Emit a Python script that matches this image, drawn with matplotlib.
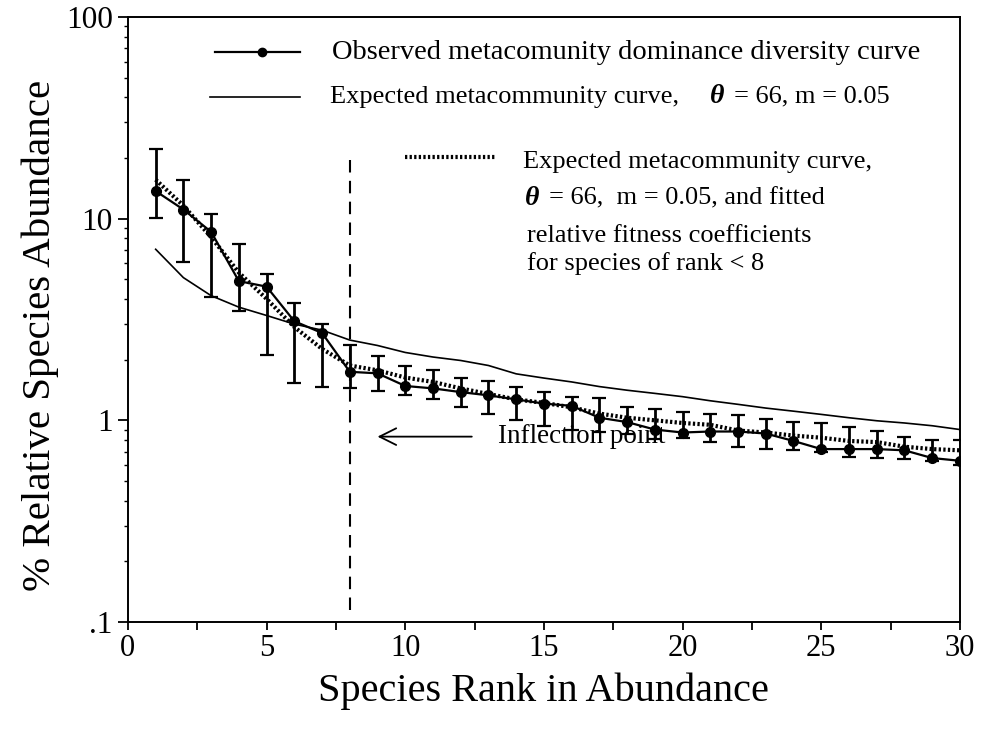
import matplotlib
matplotlib.use("Agg")
import matplotlib.pyplot as plt
import numpy as np
from matplotlib.ticker import FixedLocator, MultipleLocator, LogLocator, NullFormatter

plt.rcParams['font.family'] = ['Liberation Serif', 'DejaVu Serif']
plt.rcParams['mathtext.fontset'] = 'stix'

# species rank 1..30
rank = np.arange(1, 31)

# observed dominance-diversity curve (% relative abundance) with error bar limits
observed = [13.7, 11.1, 8.6, 4.9, 4.6, 3.1, 2.71, 1.74, 1.71, 1.48,
            1.44, 1.38, 1.33, 1.27, 1.21, 1.18, 1.03, 0.98, 0.90, 0.87,
            0.88, 0.88, 0.86, 0.79, 0.72, 0.72, 0.72, 0.71, 0.65, 0.63]
err_hi = [22.2, 15.6, 10.5, 7.5, 5.3, 3.8, 3.0, 2.37, 2.08, 1.85,
          1.78, 1.62, 1.56, 1.46, 1.38, 1.31, 1.29, 1.17, 1.14, 1.10,
          1.08, 1.06, 1.01, 0.98, 0.97, 0.93, 0.89, 0.83, 0.80, 0.80]
err_lo = [10.1, 6.1, 4.1, 3.5, 2.1, 1.53, 1.47, 1.45, 1.39, 1.33,
          1.27, 1.16, 1.07, 1.00, 0.94, 0.90, 0.88, 0.86, 0.81, 0.82,
          0.78, 0.74, 0.72, 0.71, 0.70, 0.66, 0.65, 0.64, 0.63, 0.60]

# expected neutral metacommunity curve (theta = 66, m = 0.05)
expected = [7.05, 5.1, 4.15, 3.64, 3.31, 3.0, 2.8, 2.5, 2.35, 2.17,
            2.06, 1.98, 1.87, 1.70, 1.62, 1.55, 1.47, 1.41, 1.36, 1.31,
            1.25, 1.20, 1.15, 1.11, 1.07, 1.03, 0.995, 0.97, 0.94, 0.90]

# expected curve with fitted fitness coefficients for rank < 8
fitted = [15.6, 11.6, 8.1, 5.4, 4.0, 2.9, 2.26, 1.87, 1.77, 1.63,
          1.55, 1.44, 1.35, 1.27, 1.22, 1.16, 1.08, 1.03, 1.0, 0.97,
          0.95, 0.89, 0.87, 0.84, 0.82, 0.79, 0.78, 0.74, 0.72, 0.71]

fig = plt.figure(figsize=(9.84, 7.38), dpi=100)
ax = fig.add_axes([0.130, 0.1572, 0.8455, 0.8198])

obs = np.array(observed)
yerr = [obs - np.array(err_lo), np.array(err_hi) - obs]
ax.errorbar(rank, obs, yerr=yerr, color='black', lw=1.6, marker='o', ms=7,
            capsize=5, elinewidth=2, capthick=1.6, zorder=3)
ax.plot(rank, expected, color='black', lw=1.2, zorder=2)
ax.plot(rank, fitted, color='black', lw=3, linestyle=(0, (0.55, 0.55)), zorder=2)

# inflection point
ax.plot([8, 8], [0.115, 19.5], color='black', lw=1.5, linestyle=(0, (6, 4)))
ax.annotate('', xy=(8.9, 0.83), xytext=(12.5, 0.83),
            arrowprops=dict(arrowstyle='->', lw=1.3, color='black', mutation_scale=30))
ax.text(13.35, 0.83, 'Inflection point', fontsize=19.5, va='center', ha='left')

ax.set_yscale('log')
ax.set_xlim(0, 30)
ax.set_ylim(0.1, 100)
ax.xaxis.set_major_locator(MultipleLocator(5))
ax.xaxis.set_minor_locator(MultipleLocator(2.5))
ax.yaxis.set_major_locator(FixedLocator([0.1, 1, 10, 100]))
ax.set_yticklabels(['.1', '1', '10', '100'])
ax.yaxis.set_minor_locator(LogLocator(base=10, subs=np.arange(2, 10)))
ax.yaxis.set_minor_formatter(NullFormatter())
ax.tick_params(axis='x', which='both', direction='out', length=6, width=1.3, labelsize=22, pad=3)
ax.tick_params(axis='y', which='major', direction='out', length=7, width=1.3, labelsize=22.5, pad=4)
ax.tick_params(axis='y', which='minor', direction='out', length=3, width=1)
for s in ax.spines.values():
    s.set_linewidth(1.4)

ax.set_xlabel('Species Rank in Abundance', fontsize=29)
ax.set_ylabel('% Relative Species Abundance', fontsize=29.5)
ax.xaxis.set_label_coords(0.5, -0.083)
ax.yaxis.set_label_coords(-0.083, 0.474)

# hand-drawn key, in axes fraction
T = ax.transAxes
fs = 19
ax.plot([0.1046, 0.2067], [0.942, 0.942], color='black', lw=1.6, transform=T)
ax.plot([0.161], [0.942], 'o', color='black', ms=6, transform=T)
ax.text(0.245, 0.942, 'Observed metacomunity dominance diversity curve', fontsize=20.5,
        va='center', ha='left', transform=T)

ax.plot([0.0986, 0.2067], [0.868, 0.868], color='black', lw=1.2, transform=T)
ax.text(0.243, 0.868, 'Expected metacommunity curve,', fontsize=fs,
        va='center', ha='left', transform=T)
ax.text(0.700, 0.868, '\u03b8', fontsize=fs + 1, fontstyle='italic', fontweight='bold',
        va='center', ha='left', transform=T)
ax.text(0.728, 0.868, '= 66, m = 0.05', fontsize=fs, va='center', ha='left', transform=T)

ax.plot([0.333, 0.441], [0.769, 0.769], color='black', lw=3,
        linestyle=(0, (0.55, 0.55)), transform=T)
ax.text(0.475, 0.760, 'Expected metacommunity curve,', fontsize=fs,
        va='center', ha='left', transform=T)
ax.text(0.477, 0.700, '\u03b8', fontsize=fs + 1, fontstyle='italic', fontweight='bold',
        va='center', ha='left', transform=T)
ax.text(0.506, 0.700, '= 66,  m = 0.05, and fitted', fontsize=fs,
        va='center', ha='left', transform=T)
ax.text(0.480, 0.638, 'relative fitness coefficients', fontsize=fs,
        va='center', ha='left', transform=T)
ax.text(0.480, 0.592, 'for species of rank < 8', fontsize=fs,
        va='center', ha='left', transform=T)

fig.savefig('out.png', dpi=100)
